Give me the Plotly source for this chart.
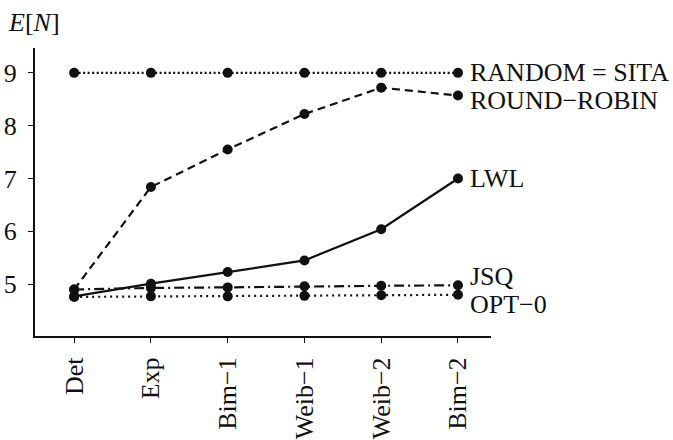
import plotly.graph_objects as go

categories = ["Det", "Exp", "Bim\u22121", "Weib\u22121", "Weib\u22122", "Bim\u22122"]
random_sita = [9.0, 9.0, 9.0, 9.0, 9.0, 9.0]
round_robin = [4.90, 6.84, 7.55, 8.22, 8.72, 8.57]
lwl = [4.77, 5.01, 5.23, 5.45, 6.04, 7.0]
jsq = [4.90, 4.93, 4.94, 4.96, 4.97, 4.98]
opt0 = [4.76, 4.77, 4.77, 4.78, 4.79, 4.80]

series = [
    ("RANDOM = SITA", random_sita, "2px,2.5px", 9.0),
    ("ROUND\u2212ROBIN", round_robin, "8px,5px", 8.47),
    ("LWL", lwl, "solid", 7.0),
    ("JSQ", jsq, "10px,4px,2px,4px", 5.15),
    ("OPT\u22120", opt0, "2px,4px", 4.62),
]

FONT = "Liberation Serif"
x_idx = list(range(len(categories)))

fig = go.Figure()
for name, vals, dash, label_y in series:
    fig.add_trace(go.Scatter(
        x=x_idx, y=vals, mode="lines+markers", name=name,
        line=dict(color="#111111", width=2.2, dash=dash),
        marker=dict(color="#111111", size=10),
        showlegend=False,
    ))
    fig.add_annotation(x=x_idx[-1], y=label_y, xref="x", yref="y",
                       text=name, showarrow=False, xanchor="left",
                       xshift=10, font=dict(family=FONT, size=26, color="#111111"))

fig.add_annotation(xref="paper", yref="paper",
                   x=(6 - 35) / (491 - 35), y=(336 - 22) / (336 - 48),
                   text="<i>E</i>[<i>N</i>]", showarrow=False,
                   xanchor="left", yanchor="middle",
                   font=dict(family=FONT, size=26, color="#111111"))

fig.update_xaxes(
    range=[-0.51, 5.43], tickmode="array", tickvals=x_idx, ticktext=categories,
    tickangle=-90, showline=True, linecolor="#111111", linewidth=2,
    ticks="outside", ticklen=5, tickcolor="#111111", tickwidth=1,
    showgrid=False, zeroline=False, automargin=False, ticklabelstandoff=4,
    tickfont=dict(family=FONT, size=26, color="#111111"),
)
fig.update_yaxes(
    range=[4.02, 9.47], tickvals=[5, 6, 7, 8, 9],
    showline=True, linecolor="#111111", linewidth=2,
    ticks="outside", ticklen=5, tickcolor="#111111", tickwidth=1,
    showgrid=False, zeroline=False, automargin=False, ticklabelstandoff=6,
    tickfont=dict(family=FONT, size=26, color="#111111"),
)
fig.update_layout(
    width=673, height=440,
    margin=dict(l=35, r=182, t=48, b=104),
    plot_bgcolor="white", paper_bgcolor="white",
    font=dict(family=FONT, color="#111111"),
)
fig.write_html("out.html", config={"displayModeBar": False},
               post_script="document.body.style.margin='0';")
